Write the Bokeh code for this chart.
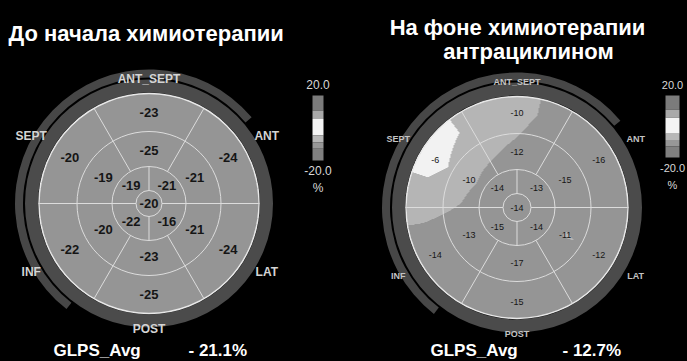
import numpy as np
from bokeh.plotting import figure
from bokeh.models import Range1d, LinearColorMapper
from bokeh.core.properties import value
from bokeh.embed import file_html
from bokeh.resources import INLINE

# ---------------- data ----------------
basal_angles = [90, 30, 330, 270, 210, 150]
mid_angles = [90, 30, 330, 270, 210, 150]
apical_angles = [135, 45, 315, 225]
wall_names = ["ANT_SEPT", "ANT", "LAT", "POST", "INF", "SEPT"]
wall_angles = [90, 30, 330, 270, 210, 150]

before_basal = [-23, -24, -24, -25, -22, -20]
before_mid = [-25, -21, -21, -23, -20, -19]
before_apical = [-19, -21, -16, -22]
before_apex = [-20]

after_basal = [-10, -16, -12, -15, -14, -6]
after_mid = [-12, -15, -11, -17, -13, -10]
after_apical = [-14, -13, -14, -15]
after_apex = [-14]

glps_label = "GLPS_Avg"
glps_values = [-21.1, -12.7]
title_left = ["До начала химиотерапии"]
title_right = ["На фоне химиотерапии", "антрациклином"]

cbar_edges = [20.0, 10.8, 5.6, -4.6, -8.7, -12.8, -20.0]
cbar_colors = ["#7b7b7b", "#a9a9a9", "#f4f4f4", "#b7b7b7", "#979797", "#808080"]
cbar_ticks = [20.0, -20.0]
cbar_unit = "%"

field_edges = [-20.0, -11.25, -7.5, 20.0]
field_colors = ["#959595", "#b5b5b5", "#f2f2f2"]

# ---------------- layout ----------------
W, H = 687, 361
FONT = value("Liberation Sans")


def Y(ys):
    return H - ys


p = figure(width=W, height=H, output_backend="svg", toolbar_location=None,
           x_range=Range1d(0, W), y_range=Range1d(0, H),
           min_border=0, background_fill_color="black", border_fill_color="black",
           outline_line_color=None)
p.axis.visible = False
p.grid.visible = False

# colour mapper for the strain field
N = 160
pal = []
for i in range(N):
    v = -20 + (i + 0.5) * 40.0 / N
    for k in range(len(field_colors)):
        if field_edges[k] <= v < field_edges[k + 1]:
            pal.append(field_colors[k])
            break
mapper = LinearColorMapper(palette=pal, low=-20, high=20, nan_color="rgba(0,0,0,0)")


def polar(cx, cy, r, ang):
    a = np.radians(np.asarray(ang, dtype=float))
    return cx + np.asarray(r) * np.cos(a), cy + np.asarray(r) * np.sin(a)


def ring_interp(theta, angs, vals):
    order = np.argsort(angs)
    return np.interp(theta, np.array(angs, float)[order],
                     np.array(vals, float)[order], period=360)


def bullseye(cx, cys, R, r_mid, r_api, r_apex, basal, mid, apical, apex,
             val_size, val_style, wall_size, wall_style, wall_color,
             fr=(0.83, 0.48, 0.23)):
    cy = Y(cys)
    # dark rim bands
    p.annulus(x=[cx], y=[cy], inner_radius=R + 1, outer_radius=R + 14,
              fill_color="#4b4b4b", line_color=None)
    p.annular_wedge(x=[cx], y=[cy], inner_radius=R + 16, outer_radius=R + 24,
                    start_angle=np.radians(40), end_angle=np.radians(232),
                    fill_color="#474747", line_color=None)
    # interpolated strain field (linear in angle and in radius between rings)
    n = 2 * R + 1
    g = np.arange(n) - R
    gx, gy = np.meshgrid(g, g)
    rr = np.hypot(gx, gy) / R
    th = np.degrees(np.arctan2(gy, gx)) % 360
    vb = ring_interp(th, basal_angles, basal)
    vm = ring_interp(th, mid_angles, mid)
    va = ring_interp(th, apical_angles, apical)
    v0 = np.full_like(rr, float(apex[0]))
    radii = [0.0, fr[2], fr[1], fr[0]]
    layers = [v0, va, vm, vb]
    field = np.where(rr >= radii[3], vb, 0.0)
    for k in range(3):
        r0, r1 = radii[k], radii[k + 1]
        t = np.clip((rr - r0) / (r1 - r0), 0, 1)
        sel = (rr >= r0) & (rr < r1)
        field = np.where(sel, layers[k] * (1 - t) + layers[k + 1] * t, field)
    field[rr > 1.0] = np.nan
    p.image(image=[field], x=cx - R - 0.5, y=cy - R - 0.5, dw=n, dh=n,
            color_mapper=mapper)
    # ring circles
    lc = "#dcdcdc"
    for r in (r_apex, r_api, r_mid):
        p.circle(x=[cx], y=[cy], radius=r, fill_color=None, line_color=lc,
                 line_width=1)
    p.circle(x=[cx], y=[cy], radius=R, fill_color=None, line_color="#e8e8e8",
             line_width=1.5)
    # segment boundaries
    x0, y0, x1, y1 = [], [], [], []
    for ang in (0, 180):
        a0 = polar(cx, cy, r_apex, ang); a1 = polar(cx, cy, R, ang)
        x0.append(a0[0]); y0.append(a0[1]); x1.append(a1[0]); y1.append(a1[1])
    for ang in (60, 120, 240, 300):
        a0 = polar(cx, cy, r_api, ang); a1 = polar(cx, cy, R, ang)
        x0.append(a0[0]); y0.append(a0[1]); x1.append(a1[0]); y1.append(a1[1])
    for ang in (90, 270):
        a0 = polar(cx, cy, r_apex, ang); a1 = polar(cx, cy, r_api, ang)
        x0.append(a0[0]); y0.append(a0[1]); x1.append(a1[0]); y1.append(a1[1])
    p.segment(x0=x0, y0=y0, x1=x1, y1=y1, line_color=lc, line_width=1)
    # segment values
    tx, ty, tt = [], [], []
    for vals_, angs_, f in ((basal, basal_angles, fr[0]), (mid, mid_angles, fr[1]),
                            (apical, apical_angles, fr[2])):
        xx, yy = polar(cx, cy, f * R, angs_)
        tx += list(xx); ty += list(yy); tt += [str(v) for v in vals_]
    tx.append(cx); ty.append(cy); tt.append(str(apex[0]))
    p.text(x=tx, y=ty, text=tt, text_align="center", text_baseline="middle",
           text_font=FONT, text_font_size=val_size, text_font_style=val_style,
           text_color="#151515")
    # wall names
    wr = [R + 15 if a in (90, 270) else R + 26 for a in wall_angles]
    wx, wy = polar(cx, cy, wr, wall_angles)
    p.text(x=wx, y=wy, text=wall_names, text_align="center", text_baseline="middle",
           text_font=FONT, text_font_size=wall_size, text_font_style=wall_style,
           text_color=wall_color)


def colorbar(x_left, x_right, top_s, bot_s, fsize):
    span = cbar_edges[0] - cbar_edges[-1]
    hgt = bot_s - top_s
    tops = [Y(top_s + (cbar_edges[0] - e) / span * hgt) for e in cbar_edges[:-1]]
    bots = [Y(top_s + (cbar_edges[0] - e) / span * hgt) for e in cbar_edges[1:]]
    p.quad(left=x_left, right=x_right, top=tops, bottom=bots,
           fill_color=cbar_colors, line_color=None)
    xc = (x_left + x_right) / 2
    p.text(x=[xc, xc, xc], y=[Y(top_s - 11), Y(bot_s + 10), Y(bot_s + 27)],
           text=["%.1f" % cbar_ticks[0], "%.1f" % cbar_ticks[1], cbar_unit],
           text_align="center", text_baseline="middle", text_font=FONT,
           text_font_size=fsize, text_color="#d8d8d8")


bullseye(148.5, 203, 110, 72, 37, 13, before_basal, before_mid, before_apical,
         before_apex, "13px", "bold", "12px", "bold", "#d4d4d4")
bullseye(516.5, 207, 111, 74, 38, 14, after_basal, after_mid, after_apical,
         after_apex, "9px", "normal", "9px", "bold", "#c4c4c4",
         fr=(0.85, 0.5, 0.25))

colorbar(312, 323, 95, 160, "12px")
colorbar(665, 679, 95, 157, "11px")

# titles
p.text(x=[8], y=[Y(33)], text=title_left, text_align="left", text_baseline="middle",
       text_font=FONT, text_font_size="22px", text_font_style="bold",
       text_color="white")
p.text(x=[517, 528], y=[Y(27), Y(51)], text=title_right, text_align="center",
       text_baseline="middle", text_font=FONT, text_font_size="22px",
       text_font_style="bold", text_color="white")

# GLPS averages
p.text(x=[53, 430], y=[Y(350), Y(350)], text=[glps_label, glps_label],
       text_align="left", text_baseline="middle", text_font=FONT,
       text_font_size="17px", text_font_style="bold", text_color="white")
p.text(x=[188, 562], y=[Y(350), Y(350)],
       text=["- %.1f%%" % abs(v) for v in glps_values],
       text_align="left", text_baseline="middle", text_font=FONT,
       text_font_size="17px", text_font_style="bold", text_color="white")

html = file_html(p, INLINE, title="GLPS")
html = html.replace("</head>", "<style>html,body{background-color:#000000;}</style></head>", 1)
open("out.html", "w").write(html)
